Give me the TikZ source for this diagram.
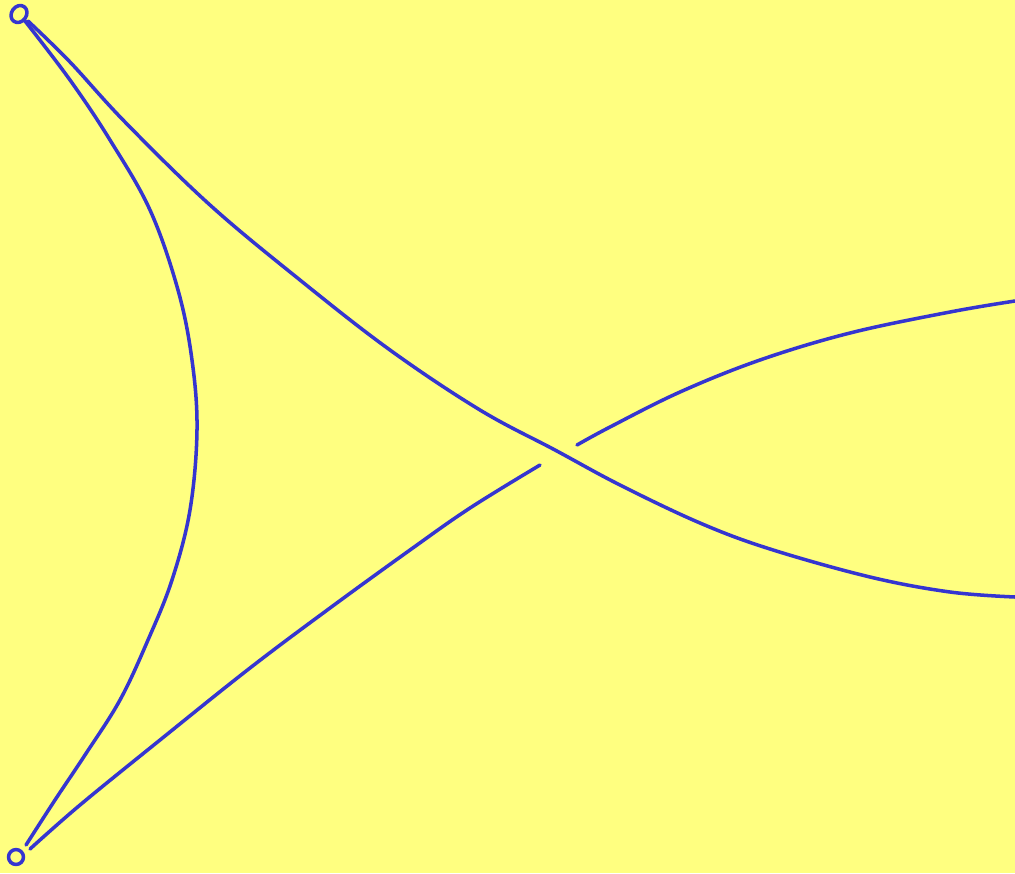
\documentclass[tikz,border=0pt]{standalone}
\usepackage{tikz}

\begin{document}
\begin{tikzpicture}[x=0.02cm, y=-0.02cm]

% Colori
\definecolor{bgYellow}{HTML}{FFFF80}
\definecolor{penBlue}{HTML}{3535D0}

\tikzset{
  pen/.style={draw=penBlue, line width=2pt, line cap=round, line join=round},
  ring/.style={pen, circle, inner sep=0pt, minimum size=8.5pt}
}

% Sfondo
\fill[bgYellow] (0,0) rectangle (1015,873);
\useasboundingbox (0,0) rectangle (1015,873);

% Anelli agli estremi
\node[ring, rotate=-35, yscale=1.2] (ringTop) at (19,14) {};
\node[ring] (ringBot) at (16,857) {};

% Arco sinistro
\draw[pen] (ringTop.south east) plot[smooth, tension=0.6] coordinates {
  (25,21) (70,80) (110,140) (150,210) (178,290) (192,360) (197,430)
  (190,510) (172,580) (148,640) (120,700) (85,755) (55,800) (26,845)};

% Curva superiore
\draw[pen] (ringTop.south east) plot[smooth, tension=0.6] coordinates {
  (28,21) (70,62) (125,122) (210,205) (300,280) (390,350) (480,410)
  (555,450) (620,485) (700,523) (770,549) (870,577) (950,592) (1015,597)};

% Curva inferiore (interrotta)
\draw[pen] (ringBot.north east) plot[smooth, tension=0.6] coordinates {
  (30,849) (80,805) (160,740) (250,668) (330,608) (410,550) (470,508) (540,465)};
\draw[pen] plot[smooth, tension=0.6] coordinates {
  (577,445) (610,427) (680,392) (760,360) (850,333) (950,312) (1015,301)};

\end{tikzpicture}
\end{document}
